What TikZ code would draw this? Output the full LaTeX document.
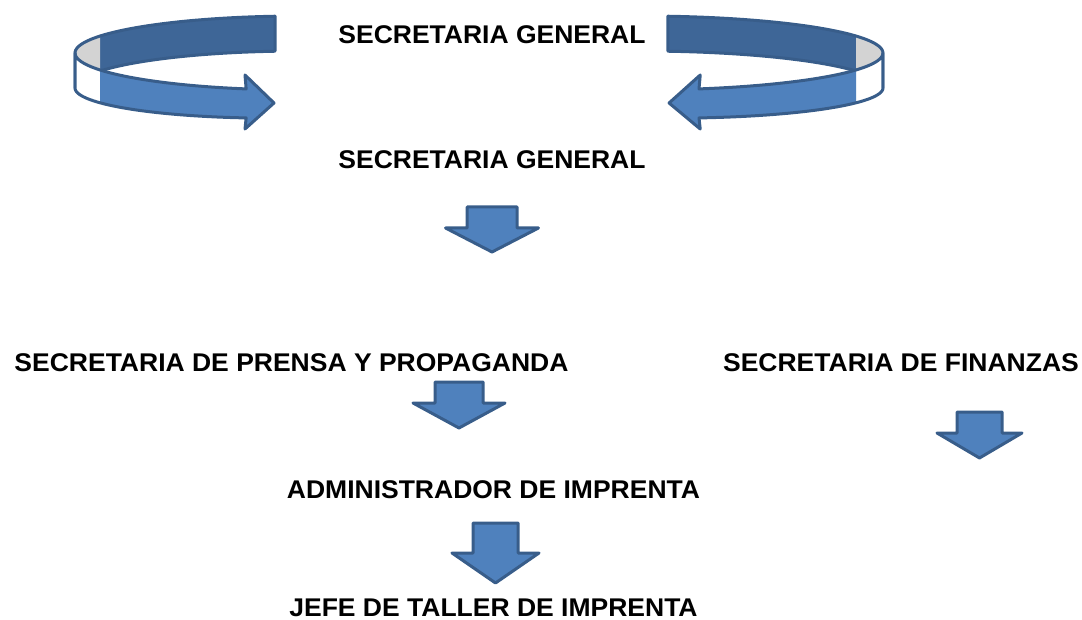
\documentclass[tikz,border=0pt]{standalone}
\usepackage{fontspec}
\usepackage{graphicx}
\setmainfont{Liberation Sans}
\definecolor{outl}{HTML}{385D8A}
\definecolor{darkband}{HTML}{3E6697}
\definecolor{lightband}{HTML}{4F81BD}
\definecolor{greyband}{HTML}{D3D3D3}
\newcommand\widetext[1]{\scalebox{1.035}[1]{#1}}
\tikzset{
  lbl/.style={inner sep=0pt, anchor=base, font=\fontsize{25.6}{30}\selectfont\bfseries},
  blockarrow/.style={draw=outl, fill=lightband, line width=3pt, line join=round},
  ribbonline/.style={draw=outl, line width=3pt, line join=round},
}
% down block arrow: cx, top, wing y, tip y, shaft half width, wing half width
\newcommand\downblock[6]{%
  \draw[blockarrow] ({#1-#5},#2) -- ({#1+#5},#2) -- ({#1+#5},#3) -- ({#1+#6},#3)
    -- (#1,#4) -- ({#1-#6},#3) -- ({#1-#5},#3) -- cycle;}
% curved 3D ribbon arrow (pointing right), in pixel coordinates
\newcommand\ribbonarrow{%
  % back wall, dark part
  \fill[darkband] plot[domain=96.38:152.73, samples=25] ({300+225*cos(\x)}, {53-37*sin(\x)})
    -- plot[domain=152.73:96.38, samples=25] ({300+225*cos(\x)}, {88-37*sin(\x)}) -- cycle;
  % back wall, grey part
  \fill[greyband] plot[domain=152.73:180, samples=15] ({300+225*cos(\x)}, {53-37*sin(\x)})
    -- plot[domain=180:152.73, samples=15] ({300+225*cos(\x)}, {88-37*sin(\x)}) -- cycle;
  \draw[ribbonline] plot[domain=96.38:180, samples=40] ({300+225*cos(\x)}, {53-37*sin(\x)})
    -- plot[domain=180:96.38, samples=40] ({300+225*cos(\x)}, {88-37*sin(\x)}) -- cycle;
  % front wall, white part
  \fill[white] plot[domain=180:207.27, samples=15] ({300+225*cos(\x)}, {53-37*sin(\x)})
    -- plot[domain=207.27:180, samples=15] ({300+225*cos(\x)}, {88-37*sin(\x)-6*(\x-180)/76.15}) -- cycle;
  % front wall, blue part with head
  \fill[lightband] plot[domain=207.27:256.15, samples=25] ({300+225*cos(\x)}, {53-37*sin(\x)})
    -- (245,75) -- (274,103) -- (245,129)
    -- plot[domain=256.15:207.27, samples=25] ({300+225*cos(\x)}, {88-37*sin(\x)-6*(\x-180)/76.15}) -- cycle;
  \draw[ribbonline] plot[domain=180:256.15, samples=40] ({300+225*cos(\x)}, {53-37*sin(\x)})
    -- (245,75) -- (274,103) -- (245,129)
    -- plot[domain=256.15:180, samples=40] ({300+225*cos(\x)}, {88-37*sin(\x)-6*(\x-180)/76.15}) -- cycle;
}
\begin{document}
\begin{tikzpicture}[x=1pt, y=-1pt]
\useasboundingbox (0,0) rectangle (1082,620);
% curved arrows
\begin{scope}\ribbonarrow\end{scope}
\begin{scope}[shift={(963.6,0)}, xscale=-1.075]\ribbonarrow\end{scope}
% labels
\node[lbl] (sg1) at (492,43.5) {\widetext{SECRETARIA GENERAL}};
\node[lbl] (sg2) at (492,168.3) {\widetext{SECRETARIA GENERAL}};
\node[lbl] (prensa) at (291.5,371) {\widetext{SECRETARIA DE PRENSA Y PROPAGANDA}};
\node[lbl] (finanzas) at (901,372) {\widetext{SECRETARIA DE FINANZAS}};
\node[lbl] (admin) at (493.5,498.3) {\widetext{ADMINISTRADOR DE IMPRENTA}};
\node[lbl] (jefe) at (493.5,616.3) {\widetext{JEFE DE TALLER DE IMPRENTA}};
% block arrows
\downblock{492}{207}{228}{252}{25}{46.5}
\downblock{459}{382}{403}{428}{24}{46}
\downblock{495.5}{523}{553}{583}{22.5}{43.5}
\downblock{979.5}{412}{433}{458}{22.5}{42.5}
\end{tikzpicture}
\end{document}
